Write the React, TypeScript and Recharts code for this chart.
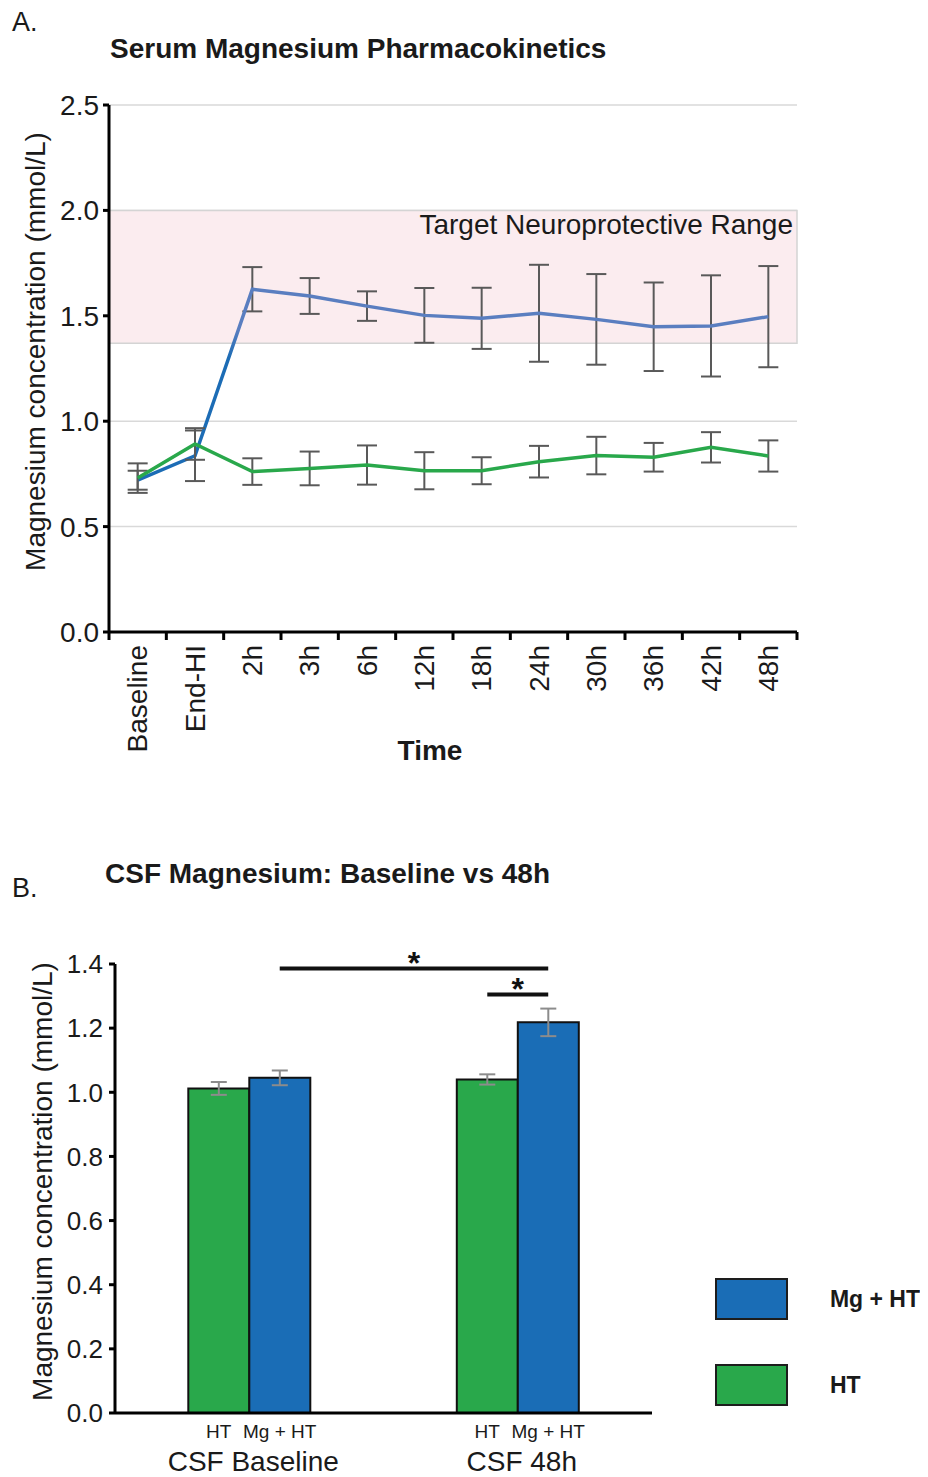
import React from "react";
import {
  LineChart,
  Line,
  BarChart,
  Bar,
  XAxis,
  YAxis,
  CartesianGrid,
  ErrorBar,
  ReferenceArea,
  ReferenceLine,
  Legend
} from "recharts";

// Panel A: serum Mg over time
const timePoints = ["Baseline", "End-HI", "2h", "3h", "6h", "12h", "18h", "24h", "30h", "36h", "42h", "48h"];
const mgHtSerum = [0.72, 0.836, 1.626, 1.594, 1.546, 1.502, 1.488, 1.512, 1.483, 1.448, 1.452, 1.496];
const mgHtSerumErr = [0.045, 0.12, 0.105, 0.085, 0.07, 0.13, 0.145, 0.23, 0.215, 0.21, 0.24, 0.24];
const htSerum = [0.73, 0.892, 0.761, 0.776, 0.792, 0.765, 0.765, 0.808, 0.837, 0.829, 0.876, 0.835];
const htSerumErr = [0.07, 0.075, 0.063, 0.08, 0.093, 0.088, 0.064, 0.075, 0.089, 0.068, 0.072, 0.074];
const serumTicks = [0, 0.5, 1, 1.5, 2, 2.5];
const targetRange = [1.37, 2.0];

// Panel B: CSF Mg
const csfGroups = ["CSF Baseline", "CSF 48h"];
const seriesNames = ["HT", "Mg + HT"];
const htCsf = [1.012, 1.04];
const htCsfErr = [0.02, 0.016];
const mgHtCsf = [1.045, 1.218];
const mgHtCsfErr = [0.023, 0.043];
const csfTicks = [0, 0.2, 0.4, 0.6, 0.8, 1.0, 1.2, 1.4];
const sigBrackets = [
  { from: [0, 1], to: [1, 1], level: 1.386 },
  { from: [1, 0], to: [1, 1], level: 1.305 }
];

const FONT = "'Liberation Sans', Arial, Helvetica, sans-serif";
const GREEN = "#29a84b";
const BLUE = "#1a6db6";
const GAP = 0.273; // barCategoryGap fraction

const serumData = timePoints.map((t, i) => ({
  time: t,
  mg: mgHtSerum[i],
  mgErr: mgHtSerumErr[i],
  ht: htSerum[i],
  htErr: htSerumErr[i]
}));

const csfData = csfGroups.map((g, i) => ({
  group: g,
  ht: htCsf[i],
  htErr: htCsfErr[i],
  mg: mgHtCsf[i],
  mgErr: mgHtCsfErr[i]
}));

// centre of bar j in group i, as a fraction of the x axis (hidden 0..1 axis)
const barPos = (group: number, bar: number) =>
  (group + 0.5 + (bar === 0 ? -1 : 1) * (1 - 2 * GAP) / 4) / csfGroups.length;

const TimeTick = (props: any) => {
  const { x, y, payload, index } = props;
  const half = payload.offset || 28.67;
  const axisY = y - 13;
  return (
    <g>
      <line x1={x + half} x2={x + half} y1={axisY} y2={axisY + 8} stroke="#000" strokeWidth={3} />
      {index === 0 && (
        <line x1={x - half} x2={x - half} y1={axisY} y2={axisY + 8} stroke="#000" strokeWidth={3} />
      )}
      <text
        x={x}
        y={y}
        transform={`rotate(-90 ${x} ${y})`}
        textAnchor="end"
        dominantBaseline="central"
        fontSize={28}
        fill="#1a1a1a"
      >
        {payload.value}
      </text>
    </g>
  );
};

const GroupTick = (props: any) => {
  const { x, y, payload } = props;
  const half = payload.offset || 134;
  const shift = half * (1 - 2 * GAP) / 2;
  return (
    <g fill="#1a1a1a">
      <text x={x - shift} y={y + 25} textAnchor="middle" fontSize={19}>{seriesNames[0]}</text>
      <text x={x + shift} y={y + 25} textAnchor="middle" fontSize={19}>{seriesNames[1]}</text>
      <text x={x + 4} y={y + 58} textAnchor="middle" fontSize={28}>{payload.value}</text>
    </g>
  );
};

const yLabel = (dx: number, dy: number, size: number) => (props: any) => {
  const { x, y, height } = props.viewBox;
  const cx = x + dx;
  const cy = y + height / 2 + dy;
  return (
    <text
      x={cx}
      y={cy}
      transform={`rotate(-90 ${cx} ${cy})`}
      textAnchor="middle"
      dominantBaseline="central"
      fontSize={size}
      fill="#1a1a1a"
    >
      Magnesium concentration (mmol/L)
    </text>
  );
};

const timeLabel = (props: any) => {
  const { x, y, width } = props.viewBox;
  return (
    <text x={x + width / 2 - 23} y={y + 128} textAnchor="middle" fontSize={28} fontWeight="bold" fill="#1a1a1a">
      Time
    </text>
  );
};

const CsfLegend = ({ payload }: any) => (
  <div style={{ fontFamily: FONT }}>
    {[...(payload || [])].reverse().map((p: any) => (
      <div key={p.value} style={{ display: "flex", alignItems: "center", height: 42, marginBottom: 44 }}>
        <div style={{ width: 73, height: 42, boxSizing: "border-box", background: p.color, border: "2px solid #1d1d1d" }} />
        <span style={{ marginLeft: 42, fontSize: 23, fontWeight: "bold", color: "#1a1a1a", whiteSpace: "nowrap" }}>
          {p.value}
        </span>
      </div>
    ))}
  </div>
);

const App = () => {
  return (
    <div style={{ position: "relative", width: 912, height: 1469, fontFamily: FONT, background: "#fff" }}>
      <div style={{ position: "absolute", left: 0, top: 0 }}>
        <LineChart
          width={820}
          height={780}
          data={serumData}
          margin={{ top: 97, right: 31, left: 41, bottom: 26 }}
          style={{ fontFamily: FONT }}
        >
          <defs>
            <linearGradient id="mgLine" x1="0" y1="0" x2="0" y2="1">
              <stop offset="0.21" stopColor="#5a7ec0" />
              <stop offset="0.36" stopColor="#1c6cb5" />
            </linearGradient>
          </defs>
          <ReferenceArea
            y1={targetRange[0]}
            y2={targetRange[1]}
            fill="#fbecef"
            fillOpacity={1}
            stroke="#d4d4d4"
            strokeWidth={1.5}
            label={{ value: "Target Neuroprotective Range", position: "insideTopRight", offset: 4, fontSize: 28, fill: "#1a1a1a" }}
          />
          <CartesianGrid vertical={false} stroke="#d9d9d9" strokeWidth={1.5} />
          <XAxis
            dataKey="time"
            scale="band"
            interval={0}
            height={130}
            tickSize={8}
            tickMargin={5}
            tickLine={false}
            axisLine={{ stroke: "#000", strokeWidth: 3 }}
            tick={<TimeTick />}
            label={timeLabel}
          />
          <YAxis
            domain={[0, 2.5]}
            ticks={serumTicks}
            width={60}
            tickSize={6}
            tickMargin={4}
            tickFormatter={(v) => v.toFixed(1)}
            tick={{ fontSize: 28, fill: "#1a1a1a" }}
            axisLine={{ stroke: "#000", strokeWidth: 3 }}
            tickLine={{ stroke: "#000", strokeWidth: 3 }}
            label={yLabel(-14, -17, 28)}
          />
          <Line
            type="linear"
            dataKey="mg"
            stroke="url(#mgLine)"
            strokeWidth={3.5}
            dot={false}
            isAnimationActive={false}
          >
            <ErrorBar dataKey="mgErr" width={10} stroke="#595959" strokeWidth={2} />
          </Line>
          <Line
            type="linear"
            dataKey="ht"
            stroke={GREEN}
            strokeWidth={3.5}
            dot={false}
            isAnimationActive={false}
          >
            <ErrorBar dataKey="htErr" width={10} stroke="#595959" strokeWidth={2} />
          </Line>
        </LineChart>
      </div>

      <div style={{ position: "absolute", left: 0, top: 900 }}>
        <BarChart
          width={912}
          height={569}
          data={csfData}
          margin={{ top: 56, right: 268, left: 47, bottom: 0 }}
          barCategoryGap={`${GAP * 100}%`}
          barGap={0}
          style={{ fontFamily: FONT }}
        >
          <XAxis
            dataKey="group"
            height={64}
            tickSize={0}
            tickMargin={0}
            tickLine={false}
            axisLine={{ stroke: "#000", strokeWidth: 3 }}
            tick={<GroupTick />}
          />
          <XAxis xAxisId="sig" type="number" domain={[0, 1]} allowDataOverflow hide />
          <YAxis
            domain={[0, 1.4]}
            ticks={csfTicks}
            width={60}
            tickSize={6}
            tickMargin={6}
            tickFormatter={(v) => v.toFixed(1)}
            tick={{ fontSize: 26, fill: "#1a1a1a" }}
            axisLine={{ stroke: "#000", strokeWidth: 3 }}
            tickLine={{ stroke: "#000", strokeWidth: 3 }}
            label={yLabel(-13, -7, 28)}
          />
          <Legend
            layout="horizontal"
            align="center"
            verticalAlign="middle"
            content={<CsfLegend />}
            wrapperStyle={{ position: "absolute", left: 707, top: 370, width: 205 }}
          />
          <Bar dataKey="ht" name={seriesNames[0]} fill={GREEN} stroke="#111" strokeWidth={2} isAnimationActive={false}>
            <ErrorBar dataKey="htErr" width={8} stroke="#8c8c8c" strokeWidth={2} />
          </Bar>
          <Bar dataKey="mg" name={seriesNames[1]} fill={BLUE} stroke="#111" strokeWidth={2} isAnimationActive={false}>
            <ErrorBar dataKey="mgErr" width={8} stroke="#8c8c8c" strokeWidth={2} />
          </Bar>
          {sigBrackets.map((b, i) => (
            <ReferenceLine
              key={i}
              xAxisId="sig"
              segment={[
                { x: barPos(b.from[0], b.from[1]), y: b.level },
                { x: barPos(b.to[0], b.to[1]), y: b.level }
              ]}
              stroke="#111"
              strokeWidth={4}
              ifOverflow="visible"
              label={{ value: "*", position: "top", offset: -6, fontSize: 32, fontWeight: "bold", fill: "#111" }}
            />
          ))}
        </BarChart>
      </div>

      <svg
        width={912}
        height={1469}
        style={{ position: "absolute", left: 0, top: 0, pointerEvents: "none" }}
      >
        <g fontFamily={FONT} fill="#1a1a1a">
          <text x={4} y={23} fontSize={27}>A.</text>
          <text x={102} y={50} fontSize={28} fontWeight="bold">Serum Magnesium Pharmacokinetics</text>
          <text x={4} y={889} fontSize={27}>B.</text>
          <text x={97} y={875} fontSize={28} fontWeight="bold">CSF Magnesium: Baseline vs 48h</text>
        </g>
      </svg>
    </div>
  );
};

export default App;
